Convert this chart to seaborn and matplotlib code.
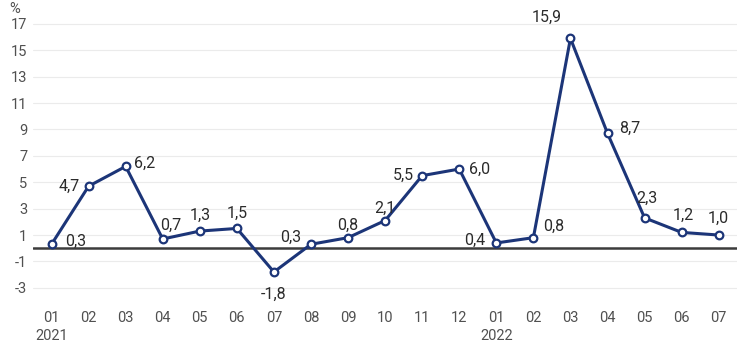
import matplotlib
matplotlib.use("Agg")
import matplotlib.pyplot as plt
import seaborn as sns
import pandas as pd
import numpy as np

months = ["01", "02", "03", "04", "05", "06", "07", "08", "09", "10", "11", "12",
          "01", "02", "03", "04", "05", "06", "07"]
years = {0: "2021", 12: "2022"}
values = [0.3, 4.7, 6.2, 0.7, 1.3, 1.5, -1.8, 0.3, 0.8, 2.1, 5.5, 6.0,
          0.4, 0.8, 15.9, 8.7, 2.3, 1.2, 1.0]
yticks = [-3, -1, 1, 3, 5, 7, 9, 11, 13, 15, 17]

# label offsets in points (dx, dy) and horizontal alignment
offsets = [(10, 2, "left"), (-6, 0, "right"), (6, 2, "left"), (-2, 10, "left"),
           (0, 11, "center"), (0, 11, "center"), (0, -16, "center"), (-7, 5, "right"),
           (0, 9, "center"), (0, 9, "center"), (-6, 0, "right"), (7, 0, "left"),
           (-8, 2, "right"), (7, 8, "left"), (-6, 15, "right"), (8, 4, "left"),
           (2, 14, "center"), (1, 12, "center"), (0, 12, "center")]

sns.set_theme(style="white")
plt.rcParams['font.family'] = ['Roboto', 'DejaVu Sans']

df = pd.DataFrame({"x": np.arange(len(values)), "v": values})

fig = plt.figure(figsize=(7.5, 3.54), dpi=100)
ax = fig.add_axes([0.044, 0.172, 0.939, 0.783])

for t in yticks:
    ax.axhline(t, color="#ebebeb", lw=0.8, zorder=0)
ax.axhline(0, color="#3c3c3c", lw=1.8, zorder=1)

navy = "#1c3578"
sns.lineplot(data=df, x="x", y="v", ax=ax, color=navy, lw=2.2,
             marker="o", markersize=5.5, markerfacecolor="white",
             markeredgecolor=navy, markeredgewidth=1.6, zorder=3)

for i, v in enumerate(values):
    dx, dy, ha = offsets[i]
    ax.annotate(f"{v:.1f}".replace(".", ","), (i, v), xytext=(dx, dy),
                textcoords="offset points", ha=ha, va="center",
                fontsize=11.5, color="#2b2b2b")

ax.set_xlim(-0.5, 18.5)
ax.set_ylim(-3.4, 17.6)
ax.set_yticks(yticks)
ax.set_yticklabels([str(t) for t in yticks])
ax.set_xticks(range(len(months)))
labels = ax.set_xticklabels([m + ("\n" + years[i] if i in years else "") for i, m in enumerate(months)],
                            linespacing=1.35, va="top", multialignment="center")
ax.tick_params(axis="both", labelsize=10.5, colors="#505050", length=0)
ax.tick_params(axis="x", pad=13)
ax.tick_params(axis="y", pad=4)
for s in ax.spines.values():
    s.set_visible(False)
ax.set_xlabel("")
ax.set_ylabel("")

fig.text(0.012, 0.955, "%", fontsize=10.5, color="#505050", ha="left", va="bottom")

fig.savefig("out.png", dpi=100)
